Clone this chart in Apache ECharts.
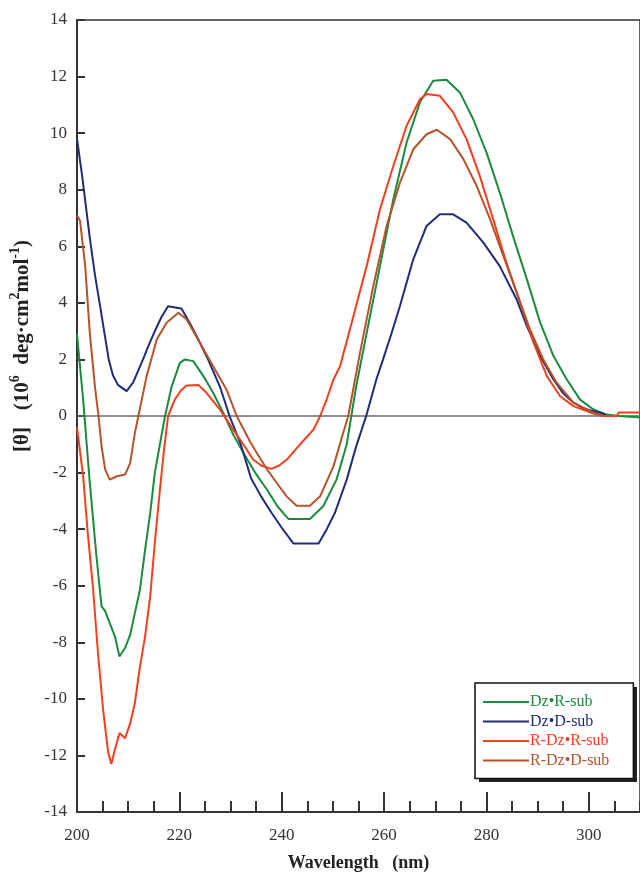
<!DOCTYPE html>
<html>
<head>
<meta charset="utf-8">
<script src="https://cdn.jsdelivr.net/npm/echarts@6/dist/echarts.min.js"></script>
<style>
  html, body { margin: 0; padding: 0; background: #fff; }
  #chart { width: 640px; height: 875px; }
</style>
</head>
<body>
<div id="chart"></div>
<script>
    // CD spectra, [wavelength nm, theta x10^6]
    var seriesNames = ['Dz•R-sub', 'Dz•D-sub', 'R-Dz•R-sub', 'R-Dz•D-sub'];
    var seriesColors = ['#1b8a3e', '#1f2c78', '#f2401f', '#b4532c'];

    var dzRsub = [[200, 2.9], [201.2, 0.58], [202.5, -2.36], [203.8, -4.96], [204.8, -6.73], [205.5, -6.9],
        [206.4, -7.32], [207.4, -7.79], [208.3, -8.5], [209.4, -8.2], [210.4, -7.73], [211.3, -6.97],
        [212.3, -6.14], [213.3, -4.73], [214.3, -3.43], [215.2, -2.01], [216.2, -1.0], [217.2, 0],
        [218.5, 1.05], [220.1, 1.88], [221.1, 2.0], [222.7, 1.94], [224.7, 1.41], [226.6, 0.82],
        [228.6, 0.1], [230.5, -0.65], [232.5, -1.3], [234.8, -2.0], [237.1, -2.6], [239.2, -3.2],
        [241.3, -3.64], [245.5, -3.64], [248.1, -3.19], [250.7, -2.25], [252.7, -1.0], [253.6, 0],
        [254.5, 1.0], [256.6, 2.94], [259.2, 5.3], [261.8, 7.66], [264.4, 9.67], [267, 11.09],
        [269.6, 11.85], [272.2, 11.89], [274.8, 11.44], [277.4, 10.5], [280, 9.32], [282.6, 7.9],
        [285.2, 6.36], [287.9, 4.83], [290.5, 3.3], [293.1, 2.12], [295.7, 1.29], [298.3, 0.58],
        [300.9, 0.23], [303.5, 0.05], [306, 0], [310, -0.05]];

    var dzDsub = [[200, 9.8], [201, 8.5], [202.5, 6.3], [203.5, 5.0], [204.5, 3.9], [205.3, 3.0],
        [206.2, 2.0], [207, 1.45], [208, 1.1], [209.7, 0.88], [211, 1.2], [212.9, 2.0], [214, 2.5],
        [215.2, 3.0], [216.5, 3.5], [217.8, 3.88], [220.4, 3.8], [222, 3.3], [224, 2.6], [225.6, 2.0],
        [228, 1.0], [229.8, 0], [232, -1.0], [234, -2.2], [236, -2.85], [238, -3.42], [240, -3.95],
        [242.3, -4.51], [247.2, -4.51], [248.8, -4.0], [250.4, -3.42], [252.7, -2.25], [254.5, -1.1],
        [256.5, 0], [258.5, 1.3], [259.8, 2.0], [261.5, 2.95], [263.1, 3.89], [265.7, 5.54],
        [268.3, 6.72], [270.9, 7.13], [273.5, 7.13], [276.1, 6.84], [279.4, 6.13], [282.6, 5.3],
        [285.9, 4.12], [287.9, 3.18], [290.5, 2.12], [293.1, 1.29], [295, 0.8], [297, 0.47],
        [299, 0.27], [300.9, 0.17], [302.8, 0.09], [303.3, 0]];

    var rdzRsub = [[200, -0.4], [201.2, -2.13], [202.1, -4.13], [203.1, -6.02], [204.1, -8.38],
        [205.1, -10.39], [206.1, -11.9], [206.7, -12.3], [207.4, -11.8], [208.3, -11.21], [209.4, -11.39],
        [210.4, -10.86], [211.3, -10.15], [212.3, -8.86], [213.3, -7.8], [214.3, -6.38], [215.2, -4.49],
        [216.2, -2.6], [217, -1.2], [217.8, 0], [219.1, 0.58], [220.3, 0.9], [221.4, 1.08], [223.7, 1.1],
        [225.3, 0.82], [227.9, 0.23], [229.2, -0.12], [230.5, -0.48], [232.5, -1.0], [234.4, -1.54],
        [236, -1.75], [238, -1.87], [239.5, -1.75], [241, -1.54], [243.6, -1.0], [246.2, -0.48],
        [247.5, 0], [248.8, 0.6], [250.1, 1.29], [251.4, 1.76], [254, 3.53], [256.6, 5.3], [259.2, 7.31],
        [261.8, 8.84], [264.4, 10.26], [267, 11.2], [268.3, 11.38], [270.9, 11.32], [273.5, 10.73],
        [276.1, 9.79], [278.7, 8.49], [281.3, 6.96], [283.9, 5.42], [286.6, 4.0], [289.2, 2.59],
        [291.8, 1.41], [294.4, 0.7], [297, 0.35], [300.9, 0.09], [303, 0], [305.5, 0], [305.8, 0.12],
        [310, 0.12]];

    var rdzDsub = [[200, 7.1], [200.6, 6.9], [201.6, 5.3], [202.5, 2.94], [203.5, 1.05], [204.2, 0],
        [204.8, -1.07], [205.5, -1.89], [206.4, -2.25], [207.8, -2.13], [209.4, -2.07], [210.4, -1.66],
        [211.3, -0.6], [212, 0], [213.6, 1.41], [215.6, 2.71], [217.5, 3.3], [219.8, 3.65], [221.4, 3.42],
        [224, 2.59], [226.6, 1.76], [229.2, 0.94], [231.2, 0], [233.8, -0.9], [235.1, -1.3], [237, -1.85],
        [239, -2.36], [241, -2.85], [242.9, -3.17], [245.5, -3.17], [247.5, -2.84], [250.1, -1.78],
        [252, -0.6], [253, 0], [255.3, 2.24], [257.9, 4.6], [260.5, 6.72], [263.1, 8.25], [265.7, 9.43],
        [268.3, 9.96], [270.3, 10.12], [272.9, 9.79], [275.5, 9.08], [278.1, 8.13], [280.7, 6.96],
        [283.3, 5.66], [285.9, 4.36], [288.5, 3.06], [291.1, 2.0], [293.7, 1.18], [297, 0.47],
        [300.9, 0.12], [303, 0]];

    var allData = [dzRsub, dzDsub, rdzRsub, rdzDsub];
    var serif = '"Liberation Serif", "Times New Roman", serif';
    var axisColor = '#333';

    var chart = echarts.init(document.getElementById('chart'));

    var series = allData.map(function (d, i) {
        return {
            name: seriesNames[i],
            type: 'line',
            xAxisIndex: 0,
            data: d,
            symbol: 'none',
            lineStyle: { color: seriesColors[i], width: 2 },
            itemStyle: { color: seriesColors[i] },
            z: 3
        };
    });
    // zero line
    series[0].markLine = {
        silent: true,
        symbol: 'none',
        label: { show: false },
        lineStyle: { color: '#666', width: 1.5, type: 'solid' },
        data: [{ yAxis: 0 }],
        z: 1
    };

    var option = {
        backgroundColor: '#fff',
        animation: false,
        grid: {
            left: 77, top: 20, bottom: 63, right: 0,
            outerBoundsMode: 'none',
            show: true, borderColor: axisColor, borderWidth: 1.5
        },
        xAxis: [{
            // major ticks + labels
            type: 'value',
            min: 200, max: 310, interval: 20,
            axisLine: { onZero: false, lineStyle: { color: axisColor, width: 2 } },
            axisTick: { inside: true, length: 20, lineStyle: { color: axisColor, width: 2 } },
            splitLine: { show: false },
            axisLabel: { color: '#333', fontFamily: serif, fontSize: 17, margin: 15, showMaxLabel: false },
            name: 'Wavelength   (nm)',
            nameLocation: 'middle',
            nameGap: 42,
            nameTextStyle: { color: '#222', fontFamily: serif, fontSize: 18, fontWeight: 'bold' }
        }, {
            // minor ticks every 5 nm
            type: 'value',
            position: 'bottom',
            min: 200, max: 310, interval: 5,
            axisLine: { show: false, onZero: false },
            axisTick: { inside: true, length: 11, lineStyle: { color: axisColor, width: 2 } },
            axisLabel: { show: false },
            splitLine: { show: false }
        }],
        yAxis: {
            type: 'value',
            min: -14, max: 14, interval: 2,
            axisLine: { lineStyle: { color: axisColor, width: 2 } },
            axisTick: { inside: true, length: 8, lineStyle: { color: axisColor, width: 2 } },
            splitLine: { show: false },
            axisLabel: { color: '#333', fontFamily: serif, fontSize: 17, margin: 10 }
        },
        legend: {
            orient: 'vertical',
            left: 475, top: 683,
            padding: [11, 24, 10, 8],
            itemGap: 3.5,
            itemWidth: 46, itemHeight: 2,
            icon: 'rect',
            backgroundColor: '#fff',
            borderColor: '#111', borderWidth: 1.5, borderRadius: 0,
            z: 6,
            textStyle: { fontFamily: serif, fontSize: 16, padding: [0, 0, 0, -4] },
            data: seriesNames.map(function (n, i) {
                return { name: n, textStyle: { color: seriesColors[i] } };
            })
        },
        graphic: [{
            // legend drop shadow
            type: 'rect',
            z: 5,
            shape: { x: 479, y: 687, width: 158, height: 95 },
            style: { fill: '#222' }
        }, {
            type: 'text',
            left: 8,
            top: 240,
            rotation: Math.PI / 2,
            style: {
                text: '{b|[θ]}     {b|(10}{s|6}{b|  deg·cm}{s|2}{b|mol}{s|-1}{b|)}',
                rich: {
                    b: { fontFamily: serif, fontSize: 21, fontWeight: 'bold', fill: '#222', lineHeight: 25, verticalAlign: 'bottom' },
                    s: { fontFamily: serif, fontSize: 14, fontWeight: 'bold', fill: '#222', lineHeight: 25, verticalAlign: 'top' }
                }
            }
        }],
        series: series
    };

    chart.setOption(option);
</script>
</body>
</html>
